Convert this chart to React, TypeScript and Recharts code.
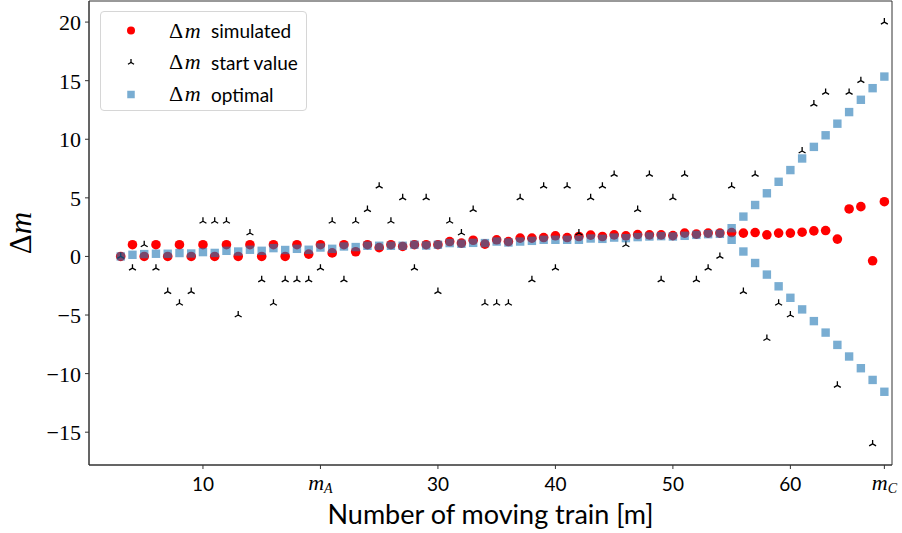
import { ScatterChart, Scatter, XAxis, YAxis, Legend, ReferenceArea } from 'recharts'

const trains = [
  3, 4, 5, 6, 7, 8, 9, 10, 11, 12, 13, 14, 15, 16, 17, 18, 19, 20, 21, 22, 23, 24, 25, 26, 27, 28, 29, 30, 31, 32, 33, 34, 35,
  36, 37, 38, 39, 40, 41, 42, 43, 44, 45, 46, 47, 48, 49, 50, 51, 52, 53, 54, 55, 56, 57, 58, 59, 60, 61, 62, 63, 64, 65, 66, 67, 68,
]
const simulated = [
  0, 1, 0, 1, 0, 1, 0, 1, 0, 1, 0, 1, 0, 1, 0, 1, 0.2, 1, 0.3, 1, 0.4, 1, 0.75, 1, 0.85, 1, 1, 1, 1.27, 1.14, 1.38, 1.05, 1.42,
  1.27, 1.56, 1.56, 1.61, 1.76, 1.61, 1.7, 1.82, 1.7, 1.84, 1.76, 1.87, 1.84, 1.84, 1.78, 1.99, 1.9, 1.99, 1.99, 2.04, 1.99, 2.04,
  1.84, 1.99, 1.99, 2.07, 2.18, 2.21, 1.48, 4.05, 4.25, -0.37, 4.67,
]
const startValue = [
  0, -1, 1, -1, -3, -4, -3, 3, 3, 3, -5, 2, -2, -4, -2, -2, -2, -1, 3, -2, 3, 4, 6, 3, 5, -1, 5, -3, 3, 2, 4, -4, -4,
  -4, 5, -2, 6, -1, 6, 2, 5, 6, 7, 1, 4, 7, -2, 5, 7, -2, -1, 0, 6, -3, 7, -7, -4, -5, 9, 13, 14, -11, 14, 15, -16, 20,
]
const optimal = [
  0, 0.14, 0.2, 0.23, 0.23, 0.29, 0.25, 0.37, 0.3, 0.48, 0.42, 0.57, 0.48, 0.71, 0.55, 0.65, 0.57, 0.76, 0.65, 0.85, 0.8, 0.91, 0.91,
  0.91, 0.91, 1, 0.93, 1, 1.14, 1.08, 1.16, 1.14, 1.27, 1.19, 1.27, 1.33, 1.42, 1.42, 1.42, 1.42, 1.53, 1.5, 1.61, 1.56, 1.65, 1.7,
  1.73, 1.7, 1.76, 1.84, 1.9, 1.93, 2.41, 3.4, 4.39, 5.39, 6.37, 7.37, 8.36, 9.35, 10.34, 11.33, 12.32, 13.37, 14.36, 15.35,
]
// second optimum branch, from m = 55 on
const lowerTrains = [55, 56, 57, 58, 59, 60, 61, 62, 63, 64, 65, 66, 67, 68]
const optimalLower = [1.42, 0.42, -0.56, -1.55, -2.55, -3.53, -4.52, -5.52, -6.5, -7.55, -8.54, -9.54, -10.54, -11.55]

const xTicks = [10, 20, 30, 40, 50, 60, 68]
const xTickLabels = ['10', 'm_A', '30', '40', '50', '60', 'm_C']
const yTicks = [-15, -10, -5, 0, 5, 10, 15, 20]
const xDomain = [0.3, 68.65]
const yDomain = [-17.8, 21.8]

const SANS = 'Lato, "Open Sans", sans-serif'
const SERIF = '"Liberation Serif", "DejaVu Serif", serif'
const AXIS = '#333'
const BLUE = '#1f77b4'

const simPts = trains.map((x, i) => ({ x, y: simulated[i] }))
const startPts = trains.map((x, i) => ({ x, y: startValue[i] }))
const optPts = trains.map((x, i) => ({ x, y: optimal[i] }))
const optLowPts = lowerTrains.map((x, i) => ({ x, y: optimalLower[i] }))

function RedDot({ cx, cy, r = 4.8 }: any) {
  return <circle cx={cx} cy={cy} r={r} fill="#ff0000" />
}

function TriUp({ cx, cy, a = 4 }: any) {
  const dx = a * 0.866
  const dy = a * 0.5
  return (
    <path
      d={`M${cx},${cy}L${cx},${cy - a}M${cx},${cy}L${cx - dx},${cy + dy}M${cx},${cy}L${cx + dx},${cy + dy}`}
      stroke="#000"
      strokeWidth={1.3}
      fill="none"
    />
  )
}

function BlueSquare({ cx, cy, s = 8.4 }: any) {
  return <rect x={cx - s / 2} y={cy - s / 2} width={s} height={s} fill={BLUE} fillOpacity={0.6} />
}

function XTick({ x, y, payload }: any) {
  const lab = xTickLabels[xTicks.indexOf(payload.value)]
  if (lab && lab.startsWith('m_')) {
    return (
      <text x={x} y={y + 21} textAnchor="middle" fill="#000">
        <tspan fontFamily={SERIF} fontStyle="italic" fontSize={22}>m</tspan>
        <tspan fontFamily={SERIF} fontStyle="italic" fontSize={14} dy={3}>{lab.slice(2)}</tspan>
      </text>
    )
  }
  return (
    <text x={x} y={y + 22} textAnchor="middle" fill="#000" fontFamily={SANS} fontSize={19}>
      {lab}
    </text>
  )
}

function YTick({ x, y, payload }: any) {
  const v = payload.value
  return (
    <text x={x} y={y + 8} textAnchor="end" fill="#000" fontFamily={SERIF} fontSize={22}>
      {v < 0 ? `\u2212${-v}` : `${v}`}
    </text>
  )
}

function DeltaM({ size }: { size: number }) {
  return (
    <span style={{ fontFamily: SERIF, fontSize: size, letterSpacing: 1.5 }}>
      Δ<i>m</i>
    </span>
  )
}

function LegendBox() {
  const rows = [
    { label: 'simulated', mark: <RedDot cx={30} cy={15.5} r={4} /> },
    { label: 'start value', mark: <TriUp cx={30} cy={15.5} a={3.5} /> },
    { label: 'optimal', mark: <BlueSquare cx={30} cy={15.5} s={7.5} /> },
  ]
  return (
    <div
      style={{
        position: 'relative',
        width: 207,
        height: 100,
        boxSizing: 'border-box',
        border: '1px solid #d6d6d6',
        borderRadius: 4,
        background: 'rgba(255,255,255,0.8)',
      }}
    >
      {rows.map((r, i) => (
        <div
          key={r.label}
          style={{ position: 'absolute', left: 0, top: 3 + i * 31.8, height: 31, display: 'flex', alignItems: 'center', whiteSpace: 'nowrap' }}
        >
          <svg width={68} height={31} style={{ display: 'block' }}>
            {r.mark}
          </svg>
          <span style={{ display: 'inline-block', width: 42 }}>
            <DeltaM size={22} />
          </span>
          <span style={{ fontFamily: SANS, fontSize: 19, color: '#000' }}>{r.label}</span>
        </div>
      ))}
    </div>
  )
}

export default function App() {
  return (
    <div style={{ width: 902, height: 533 }}>
      <style>{'body{margin:0;background:#fff}'}</style>
      <ScatterChart width={902} height={533} margin={{ top: 1, right: 10, bottom: 0, left: 0 }}>
        {/* frame around the plot area */}
        <ReferenceArea x1={xDomain[0]} x2={xDomain[1]} y1={yDomain[0]} y2={yDomain[1]} fill="none" stroke={AXIS} strokeWidth={1} />
        <XAxis
          dataKey="x"
          type="number"
          domain={xDomain}
          allowDataOverflow
          ticks={xTicks}
          tick={<XTick />}
          tickSize={4}
          tickMargin={0}
          height={68}
          axisLine={{ stroke: AXIS }}
          tickLine={{ stroke: AXIS }}
          label={{
            content: ({ viewBox }: any) => (
              <text
                x={viewBox.x + viewBox.width / 2}
                y={viewBox.y + 59}
                textAnchor="middle"
                fontFamily={SANS}
                fontSize={27}
                fill="#000"
              >
                Number of moving train [m]
              </text>
            ),
          }}
        />
        <YAxis
          dataKey="y"
          type="number"
          domain={yDomain}
          allowDataOverflow
          ticks={yTicks}
          tick={<YTick />}
          tickSize={4}
          tickMargin={4}
          width={89}
          axisLine={{ stroke: AXIS }}
          tickLine={{ stroke: AXIS }}
          label={{
            content: ({ viewBox }: any) => {
              const cx = 31
              const cy = viewBox.y + viewBox.height / 2
              return (
                <text x={cx} y={cy} transform={`rotate(-90 ${cx} ${cy})`} textAnchor="middle" fontFamily={SERIF} fontSize={31} fill="#000">
                  Δ<tspan fontStyle="italic">m</tspan>
                </text>
              )
            },
          }}
        />
        <Legend
          layout="vertical"
          verticalAlign="middle"
          align="center"
          wrapperStyle={{ left: 100, top: 11, width: 'auto', right: 'auto', bottom: 'auto' }}
          content={() => <LegendBox />}
        />
        <Scatter name="simulated" data={simPts} shape={<RedDot />} isAnimationActive={false} />
        <Scatter name="start value" data={startPts} shape={<TriUp />} isAnimationActive={false} />
        <Scatter name="optimal" data={optPts} shape={<BlueSquare />} isAnimationActive={false} />
        <Scatter name="optimal lower" data={optLowPts} shape={<BlueSquare />} isAnimationActive={false} />
      </ScatterChart>
    </div>
  )
}
